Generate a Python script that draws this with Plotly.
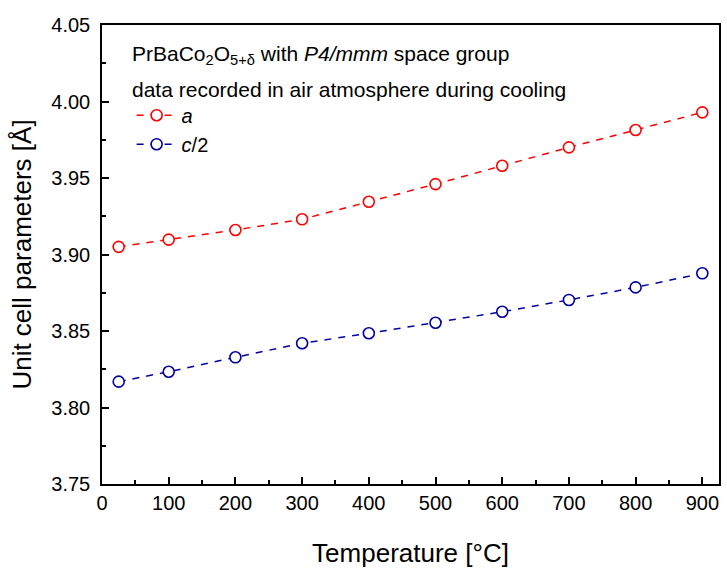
import plotly.graph_objects as go

temps = [25, 100, 200, 300, 400, 500, 600, 700, 800, 900]
a_vals = [3.905, 3.9097, 3.916, 3.923, 3.9345, 3.946, 3.958, 3.970, 3.9814, 3.9929]
c2_vals = [3.8169, 3.8234, 3.8328, 3.8420, 3.8485, 3.8554, 3.8626, 3.8703, 3.8785, 3.8877]
x_ticks = [0, 100, 200, 300, 400, 500, 600, 700, 800, 900]
y_ticks = [3.75, 3.80, 3.85, 3.90, 3.95, 4.00, 4.05]

FONT = "Liberation Sans, Arial, sans-serif"

fig = go.Figure()
fig.add_trace(go.Scatter(
    x=temps, y=a_vals, mode="lines+markers", name="<i>a</i>",
    line=dict(color="#FF0000", width=1.5, dash="7px,7px"),
    marker=dict(symbol="circle", size=11, color="white", line=dict(width=1.6, color="#FF0000")),
))
fig.add_trace(go.Scatter(
    x=temps, y=c2_vals, mode="lines+markers", name="<i>c</i>/2",
    line=dict(color="#0000A0", width=1.5, dash="7px,7px"),
    marker=dict(symbol="circle", size=11, color="white", line=dict(width=1.6, color="#0000A0")),
))

axis_common = dict(
    showline=True, linecolor="black", linewidth=1.5, mirror=True,
    ticks="inside", ticklen=7, tickwidth=1.5, tickcolor="black",
    showgrid=False, zeroline=False,
    tickfont=dict(family=FONT, size=20, color="black"),
)

fig.update_xaxes(
    range=[0, 925], tickvals=x_ticks, ticktext=[str(v) for v in x_ticks],
    minor=dict(ticks="inside", ticklen=4, tickwidth=1.5, tickcolor="black", dtick=50, tick0=0),
    title=dict(text="Temperature [°C]", font=dict(family=FONT, size=26, color="black"), standoff=31),
    **axis_common,
)
fig.update_yaxes(
    range=[3.75, 4.05], tickvals=y_ticks, ticktext=[f"{v:.2f}" for v in y_ticks],
    minor=dict(ticks="inside", ticklen=4, tickwidth=1.5, tickcolor="black", dtick=0.025, tick0=3.75),
    title=dict(text="Unit cell parameters [Å]", font=dict(family=FONT, size=26, color="black"), standoff=12),
    ticklabelstandoff=6,
    **axis_common,
)

fig.add_annotation(
    xref="paper", yref="paper", x=0.045, y=0.935, xanchor="left", yanchor="middle",
    text="PrBaCo<sub>2</sub>O<sub>5+δ</sub> with <i>P4/mmm</i> space group",
    showarrow=False, font=dict(family=FONT, size=21, color="black"),
)
fig.add_annotation(
    xref="paper", yref="paper", x=0.045, y=0.860, xanchor="left", yanchor="middle",
    text="data recorded in air atmosphere during cooling",
    showarrow=False, font=dict(family=FONT, size=21, color="black"),
)

fig.update_layout(
    width=727, height=571,
    margin=dict(l=102, r=6, t=25, b=87),
    paper_bgcolor="white", plot_bgcolor="white",
    showlegend=True,
    legend=dict(
        x=0.048, y=0.846, xanchor="left", yanchor="top",
        font=dict(family=FONT, size=20, color="black"),
        bgcolor="rgba(0,0,0,0)", tracegroupgap=0, itemwidth=40,
    ),
)

fig.write_html("out.html")
